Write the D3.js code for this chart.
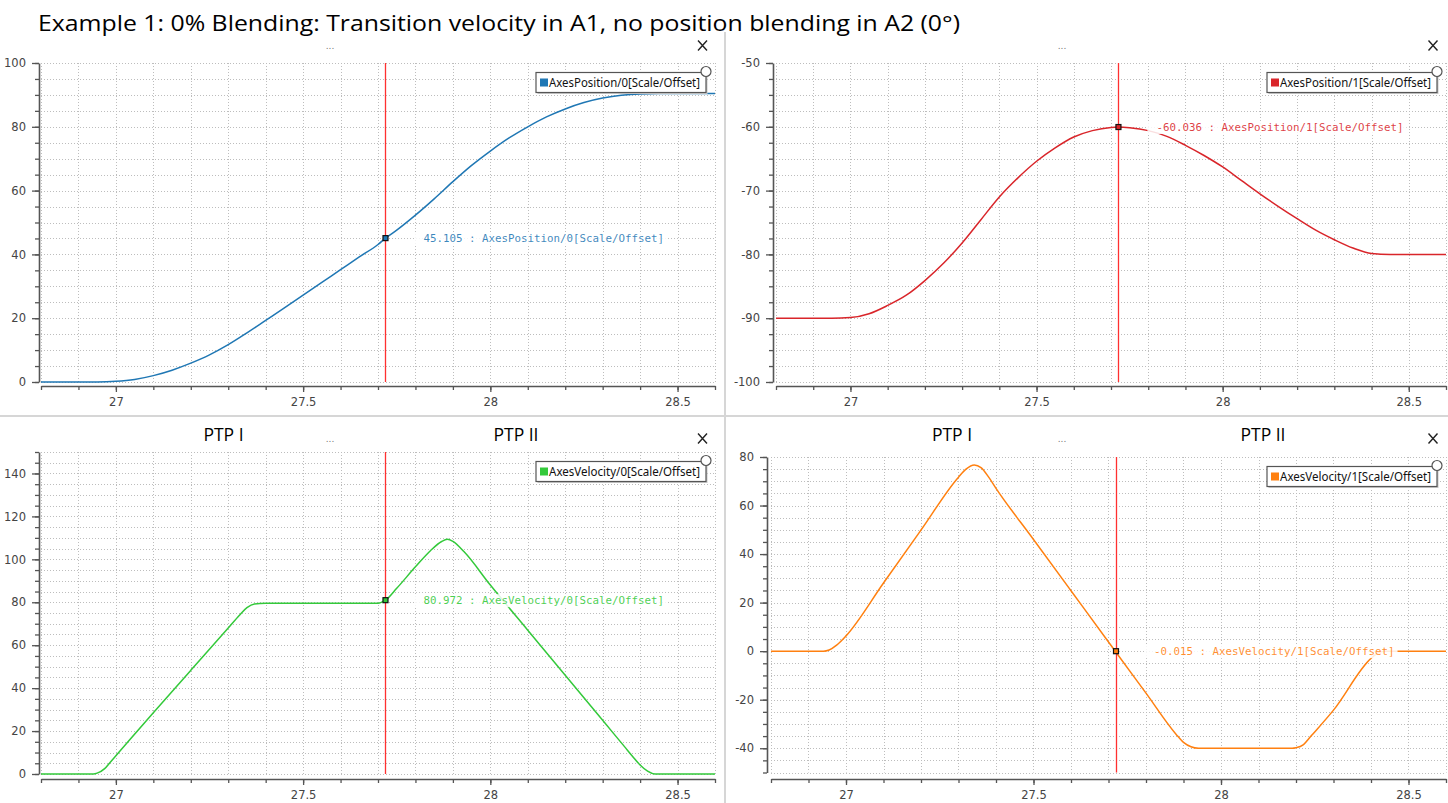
<!DOCTYPE html>
<html>
<head>
<meta charset="utf-8">
<script src="https://cdn.jsdelivr.net/npm/d3@7"></script>
<style>
  body { margin: 0; background: #fff; }
  svg { display: block; }
</style>
</head>
<body>
<div id="chart"></div>
<script>
// values (time in s)
var posTime = [26.80, 26.95, 27.00, 27.05, 27.10, 27.15, 27.20, 27.25, 27.30, 27.35, 27.40, 27.45,
  27.50, 27.55, 27.60, 27.65, 27.70, 27.72, 27.75, 27.80, 27.85, 27.90, 27.95, 28.00,
  28.05, 28.10, 28.15, 28.20, 28.25, 28.30, 28.35, 28.40, 28.45, 28.60];
var pos0 = [0, 0, 0.2, 0.8, 2.0, 3.7, 5.9, 8.5, 11.7, 15.4, 19.3, 23.2,
  27.2, 31.2, 35.2, 39.2, 43.1, 45.1, 47.6, 52.3, 57.4, 62.8, 67.9, 72.4,
  76.5, 80.0, 83.1, 85.6, 87.6, 89.0, 89.9, 90.3, 90.4, 90.4];
var pos1 = [-90, -90, -89.9, -89.3, -88.0, -86.4, -84.1, -81.4, -78.2, -74.6, -71.0, -68.0,
  -65.4, -63.3, -61.6, -60.6, -60.1, -60.04, -60.15, -60.6, -61.5, -62.9, -64.5, -66.3,
  -68.4, -70.5, -72.5, -74.4, -76.2, -77.7, -79.0, -79.85, -80, -80];

var velTime0 = [26.80, 26.94, 26.95, 26.97, 26.985, 27.00, 27.10, 27.20, 27.30, 27.33, 27.35, 27.37,
  27.40, 27.70, 27.72, 27.75, 27.80, 27.84, 27.87, 27.885, 27.90, 27.93, 28.00, 28.10,
  28.20, 28.30, 28.36, 28.38, 28.40, 28.42, 28.44, 28.60];
var vel0 = [0, 0, 0.4, 2.5, 5.5, 8.5, 28.5, 48.3, 68.0, 74.0, 77.5, 79.2,
  79.5, 79.6, 81.0, 86.5, 96.5, 104.0, 108.3, 109.3, 108.4, 103.5, 88.0, 67.0,
  46.0, 25.0, 12.4, 8.2, 4.2, 1.3, 0, 0];

var velTime1 = [26.80, 26.94, 26.955, 26.975, 27.00, 27.10, 27.20, 27.30, 27.32, 27.342, 27.36, 27.38,
  27.40, 27.50, 27.60, 27.70, 27.718, 27.80, 27.88, 27.90, 27.92, 27.94, 28.19, 28.20,
  28.22, 28.24, 28.30, 28.40, 28.42, 28.44, 28.60];
var vel1 = [0, 0, 0.5, 2.5, 6.3, 28.1, 49.9, 71.7, 75.0, 76.7, 75.6, 71.8,
  67.1, 46.0, 24.9, 3.8, -0.015, -17.3, -34.2, -37.6, -39.4, -40, -40, -39.8,
  -38.5, -35.0, -24.3, -3.0, -0.6, 0, 0];

var seriesNames = ["AxesPosition/0[Scale/Offset]", "AxesPosition/1[Scale/Offset]",
  "AxesVelocity/0[Scale/Offset]", "AxesVelocity/1[Scale/Offset]"];
var seriesColors = ["#1f77b4", "#d9252a", "#33c93a", "#ff8010"];
var cursorTime = 27.72;
var cursorValues = [45.105, -60.036, 80.972, -0.015];

var xDomain = [26.8, 28.6];
var xTicksMajor = [27, 27.5, 28, 28.5];
var yDomains = [[0, 100], [-100, -50], [0, 150], [-50, 80]];
var yTicksMajor = [[0, 20, 40, 60, 80, 100], [-100, -90, -80, -70, -60, -50],
  [0, 20, 40, 60, 80, 100, 120, 140], [-40, -20, 0, 20, 40, 60, 80]];
var yMinorStep = [5, 2.5, 5, 5];

var titleText = "Example 1: 0% Blending: Transition velocity in A1, no position blending in A2 (0°)";

var W = 1448, H = 803;
var svg = d3.select("#chart").append("svg")
  .attr("width", W).attr("height", H)
  .style("font-family", "'DejaVu Sans', sans-serif");

// panel separators
svg.append("line").attr("x1", 0).attr("x2", W).attr("y1", 416).attr("y2", 416)
  .attr("stroke", "#d6d6d6").attr("stroke-width", 2);
svg.append("line").attr("x1", 725).attr("x2", 725).attr("y1", 32).attr("y2", H)
  .attr("stroke", "#d6d6d6").attr("stroke-width", 2);

svg.append("text")
  .attr("x", 38).attr("y", 31)
  .attr("textLength", 922).attr("lengthAdjust", "spacingAndGlyphs")
  .style("font-family", "'Open Sans', sans-serif")
  .style("font-size", "22.5px")
  .style("fill", "#000")
  .text(titleText);

var panels = [
  {left: 41, right: 715, top: 63, bottom: 382, yAxisX: 39, xAxisY: 386, t: posTime, v: pos0, s: 0},
  {left: 776, right: 1446, top: 63, bottom: 382, yAxisX: 773, xAxisY: 386, t: posTime, v: pos1, s: 1},
  {left: 41, right: 715, top: 452, bottom: 774, yAxisX: 39, xAxisY: 779, t: velTime0, v: vel0, s: 2},
  {left: 771, right: 1446, top: 457, bottom: 772.5, yAxisX: 767, xAxisY: 779, t: velTime1, v: vel1, s: 3}
];

// header decorations of each scope pane
var headers = [
  {dots: 330, y: 49, close: 702.5},
  {dots: 1062, y: 49, close: 1433},
  {dots: 330, y: 442, close: 702.5, ptp: [223.5, 516]},
  {dots: 1062, y: 442, close: 1433, ptp: [952, 1263]}
];

panels.forEach(function(p, i) {
  var s = p.s;
  var x = d3.scaleLinear().domain(xDomain).range([p.left, p.right]);
  var y = d3.scaleLinear().domain(yDomains[s]).range([p.bottom, p.top]);
  var g = svg.append("g");

  var xMinor = d3.range(0, 19).map(function(k) { return +(26.8 + k * 0.1).toFixed(1); });
  var ySteps = Math.round((yDomains[s][1] - yDomains[s][0]) / yMinorStep[s]);
  var yMinor = d3.range(0, ySteps + 1).map(function(k) { return yDomains[s][0] + k * yMinorStep[s]; });

  // dotted grid
  g.append("g").selectAll("line").data(xMinor).enter().append("line")
    .attr("x1", function(d) { return Math.round(x(d)) + 0.5; })
    .attr("x2", function(d) { return Math.round(x(d)) + 0.5; })
    .attr("y1", p.top).attr("y2", p.bottom)
    .attr("stroke", "#bdbdbd").attr("stroke-dasharray", "1,2");
  g.append("g").selectAll("line").data(yMinor).enter().append("line")
    .attr("x1", p.left).attr("x2", p.right)
    .attr("y1", function(d) { return Math.round(y(d)) + 0.5; })
    .attr("y2", function(d) { return Math.round(y(d)) + 0.5; })
    .attr("stroke", "#bdbdbd").attr("stroke-dasharray", "1,2");

  // axes
  var fmt = function(d) { return String(d); };
  var xa = g.append("g").attr("transform", "translate(0," + p.xAxisY + ")");
  xa.call(d3.axisBottom(x).tickValues(xMinor).tickSize(4).tickFormat("").tickSizeOuter(0));
  var xb = g.append("g").attr("transform", "translate(0," + p.xAxisY + ")");
  xb.call(d3.axisBottom(x).tickValues(xTicksMajor).tickSize(6).tickPadding(6).tickFormat(fmt).tickSizeOuter(0));
  xb.select(".domain").remove();

  var ya = g.append("g").attr("transform", "translate(" + p.yAxisX + ",0)");
  ya.call(d3.axisLeft(y).tickValues(yMinor).tickSize(4).tickFormat("").tickSizeOuter(0));
  var yb = g.append("g").attr("transform", "translate(" + p.yAxisX + ",0)");
  yb.call(d3.axisLeft(y).tickValues(yTicksMajor[s]).tickSize(7).tickPadding(6).tickFormat(fmt).tickSizeOuter(0));
  yb.select(".domain").remove();

  g.selectAll(".domain").attr("stroke", "#555").attr("stroke-width", 1.6);
  g.selectAll(".tick line").attr("stroke", "#555").attr("stroke-width", 1.3);
  g.selectAll(".tick text").style("font-family", "'DejaVu Sans', sans-serif")
    .style("font-size", "11.5px").style("fill", "#444");

  // the signal
  var clipId = "clip" + i;
  svg.append("clipPath").attr("id", clipId).append("rect")
    .attr("x", p.left).attr("y", p.top - 2)
    .attr("width", p.right - p.left).attr("height", p.bottom - p.top + 4);
  var pts = p.t.map(function(t, k) { return [t, p.v[k]]; });
  var line = d3.line()
    .x(function(d) { return x(d[0]); })
    .y(function(d) { return y(d[1]); })
    .curve(d3.curveMonotoneX);
  g.append("path").datum(pts)
    .attr("clip-path", "url(#" + clipId + ")")
    .attr("d", line)
    .attr("fill", "none")
    .attr("stroke", seriesColors[s])
    .attr("stroke-width", 1.5);

  // cursor
  var cx = x(cursorTime), cy = y(cursorValues[s]);
  var cxs = Math.round(cx) + 0.5;
  g.append("line").attr("x1", cxs).attr("x2", cxs).attr("y1", p.top).attr("y2", p.bottom)
    .attr("stroke", "#ff3030").attr("stroke-width", 1.3);

  var label = cursorValues[s].toFixed(3) + " : " + seriesNames[s];
  var lbg = g.append("rect");
  var lt = g.append("text")
    .attr("x", cx + 38).attr("y", cy + 4)
    .style("font-family", "'DejaVu Sans Mono', monospace")
    .style("font-size", "10.8px")
    .style("fill", seriesColors[s])
    .style("fill-opacity", 0.88)
    .text(label);
  var bb = lt.node().getBBox();
  lbg.attr("x", bb.x - 9).attr("y", bb.y).attr("width", bb.width + 12).attr("height", bb.height)
    .attr("fill", "#fff").attr("fill-opacity", 0.85);

  g.append("rect").attr("x", cx - 2.5).attr("y", cy - 2.5).attr("width", 5).attr("height", 5)
    .attr("fill", seriesColors[s]).attr("stroke", "#111").attr("stroke-width", 1.2);

  // legend box
  var lw = 170, lh = 20;
  var lx = p.right - 9 - lw, ly = p.top + 9.5;
  g.append("rect").attr("x", lx + 1.5).attr("y", ly + 1.5).attr("width", lw).attr("height", lh)
    .attr("fill", "#c8c8c8");
  g.append("rect").attr("x", lx).attr("y", ly).attr("width", lw).attr("height", lh)
    .attr("fill", "#fff").attr("stroke", "#555").attr("stroke-width", 1.2);
  g.append("rect").attr("x", lx + 4).attr("y", ly + 6).attr("width", 8).attr("height", 8)
    .attr("fill", seriesColors[s]);
  g.append("text").attr("x", lx + 13).attr("y", ly + 14.5)
    .attr("textLength", 151).attr("lengthAdjust", "spacingAndGlyphs")
    .style("font-family", "'Noto Sans', sans-serif").style("font-size", "12.5px").style("fill", "#111")
    .text(seriesNames[s]);
  g.append("circle").attr("cx", lx + lw).attr("cy", ly - 1).attr("r", 5)
    .attr("fill", "#fff").attr("stroke", "#555").attr("stroke-width", 1.2);

  // pane header: "...", close cross, PTP labels
  var h = headers[i];
  g.append("text").attr("x", h.dots).attr("y", h.y).attr("text-anchor", "middle")
    .style("font-size", "9px").style("fill", "#777").text("...");
  var c = h.close, cyy = h.y - 3.5;
  g.append("path")
    .attr("d", "M" + (c - 4.5) + "," + (cyy - 5) + "L" + (c + 4.5) + "," + (cyy + 5) +
               "M" + (c + 4.5) + "," + (cyy - 5) + "L" + (c - 4.5) + "," + (cyy + 5))
    .attr("stroke", "#222").attr("stroke-width", 1.4);
  if (h.ptp) {
    ["PTP I", "PTP II"].forEach(function(txt, k) {
      g.append("text").attr("x", h.ptp[k]).attr("y", 441).attr("text-anchor", "middle")
        .style("font-family", "'Open Sans', sans-serif").style("font-size", "17.5px")
        .style("fill", "#000").text(txt);
    });
  }
});
</script>
</body>
</html>
